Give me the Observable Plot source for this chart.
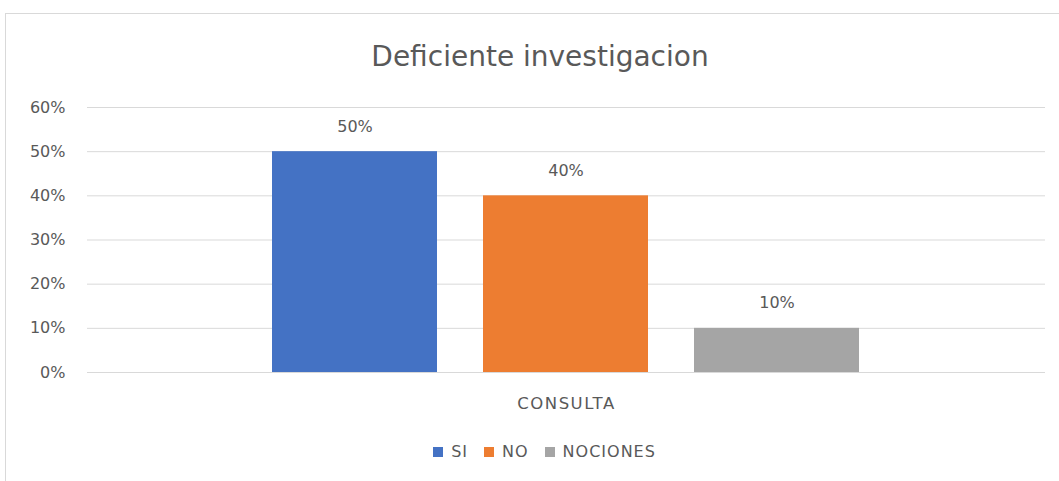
<!DOCTYPE html>
<html>
<head>
<meta charset="utf-8">
<script src="https://cdn.jsdelivr.net/npm/d3@7"></script>
<script src="https://cdn.jsdelivr.net/npm/@observablehq/plot@0.6"></script>
<style>
  html, body { margin: 0; padding: 0; background: #fff; }
  body { width: 1059px; height: 481px; position: relative; overflow: hidden; font-family: "DejaVu Sans", "Open Sans", sans-serif; color: #595959; }
  #frame { position: absolute; left: 5px; top: 13px; width: 1100px; height: 520px; border: 1px solid #d9d9d9; box-sizing: border-box; }
  #title { position: absolute; left: 0; width: 1080px; top: 38px; text-align: center; font-size: 28px; line-height: 38px; color: #595959; }
  #chart { position: absolute; left: 0; top: 0; }
  #legend { position: absolute; left: 0; width: 1089px; top: 442px; display: flex; justify-content: center; align-items: center; font-size: 16px; letter-spacing: 1px; line-height: 20px; color: #595959; }
  .item { display: flex; align-items: center; margin: 0 8px; }
  .sw { width: 10px; height: 10px; margin-right: 8px; }
  .axis-label { letter-spacing: 1.5px; }
</style>
</head>
<body>
<div id="frame"></div>
<div id="title"></div>
<div id="chart"></div>
<div id="legend"></div>
<script>
const title = "Deficiente investigacion";
const group = "CONSULTA";
const categories = ["SI", "NO", "NOCIONES"];
const values = [0.50, 0.40, 0.10];
const colors = ["#4472C4", "#ED7D31", "#A5A5A5"];
const yTicks = [0, 0.1, 0.2, 0.3, 0.4, 0.5, 0.6];

const data = categories.map((c, i) => ({category: c, value: values[i]}));
const fmt = d3.format(".0%");

document.getElementById("title").textContent = title;

const plot = Plot.plot({
  width: 1059,
  height: 420,
  marginLeft: 87,
  marginRight: 14,
  marginTop: 107,
  marginBottom: 48,
  style: { fontFamily: "'DejaVu Sans', 'Open Sans', sans-serif", color: "#595959", background: "transparent" },
  x: { type: "band", domain: categories, paddingInner: 0.217, paddingOuter: 0.868, axis: null },
  y: { domain: [0, 0.6], ticks: yTicks, tickFormat: fmt, label: null },
  color: { domain: categories, range: colors },
  marks: [
    Plot.ruleY(yTicks, { stroke: "#d9d9d9", strokeWidth: 1 }),
    Plot.axisY({ ticks: yTicks, tickFormat: fmt, tickSize: 0, tickPadding: 22, fontSize: 16, label: null, fill: "#595959" }),
    Plot.barY(data, { x: "category", y: "value", fill: "category" }),
    Plot.text(data, { x: "category", y: "value", text: d => fmt(d.value), dy: -25, fontSize: 16, fill: "#595959", lineAnchor: "middle" }),
    Plot.text([group], { frameAnchor: "bottom", text: d => d, dy: 31, fontSize: 16.5, fill: "#595959", lineAnchor: "middle", className: "axis-label" })
  ]
});
document.getElementById("chart").appendChild(plot);

const legend = document.getElementById("legend");
categories.forEach((c, i) => {
  const item = document.createElement("div");
  item.className = "item";
  const sw = document.createElement("span");
  sw.className = "sw";
  sw.style.background = colors[i];
  const label = document.createElement("span");
  label.textContent = c;
  item.appendChild(sw);
  item.appendChild(label);
  legend.appendChild(item);
});
</script>
</body>
</html>
